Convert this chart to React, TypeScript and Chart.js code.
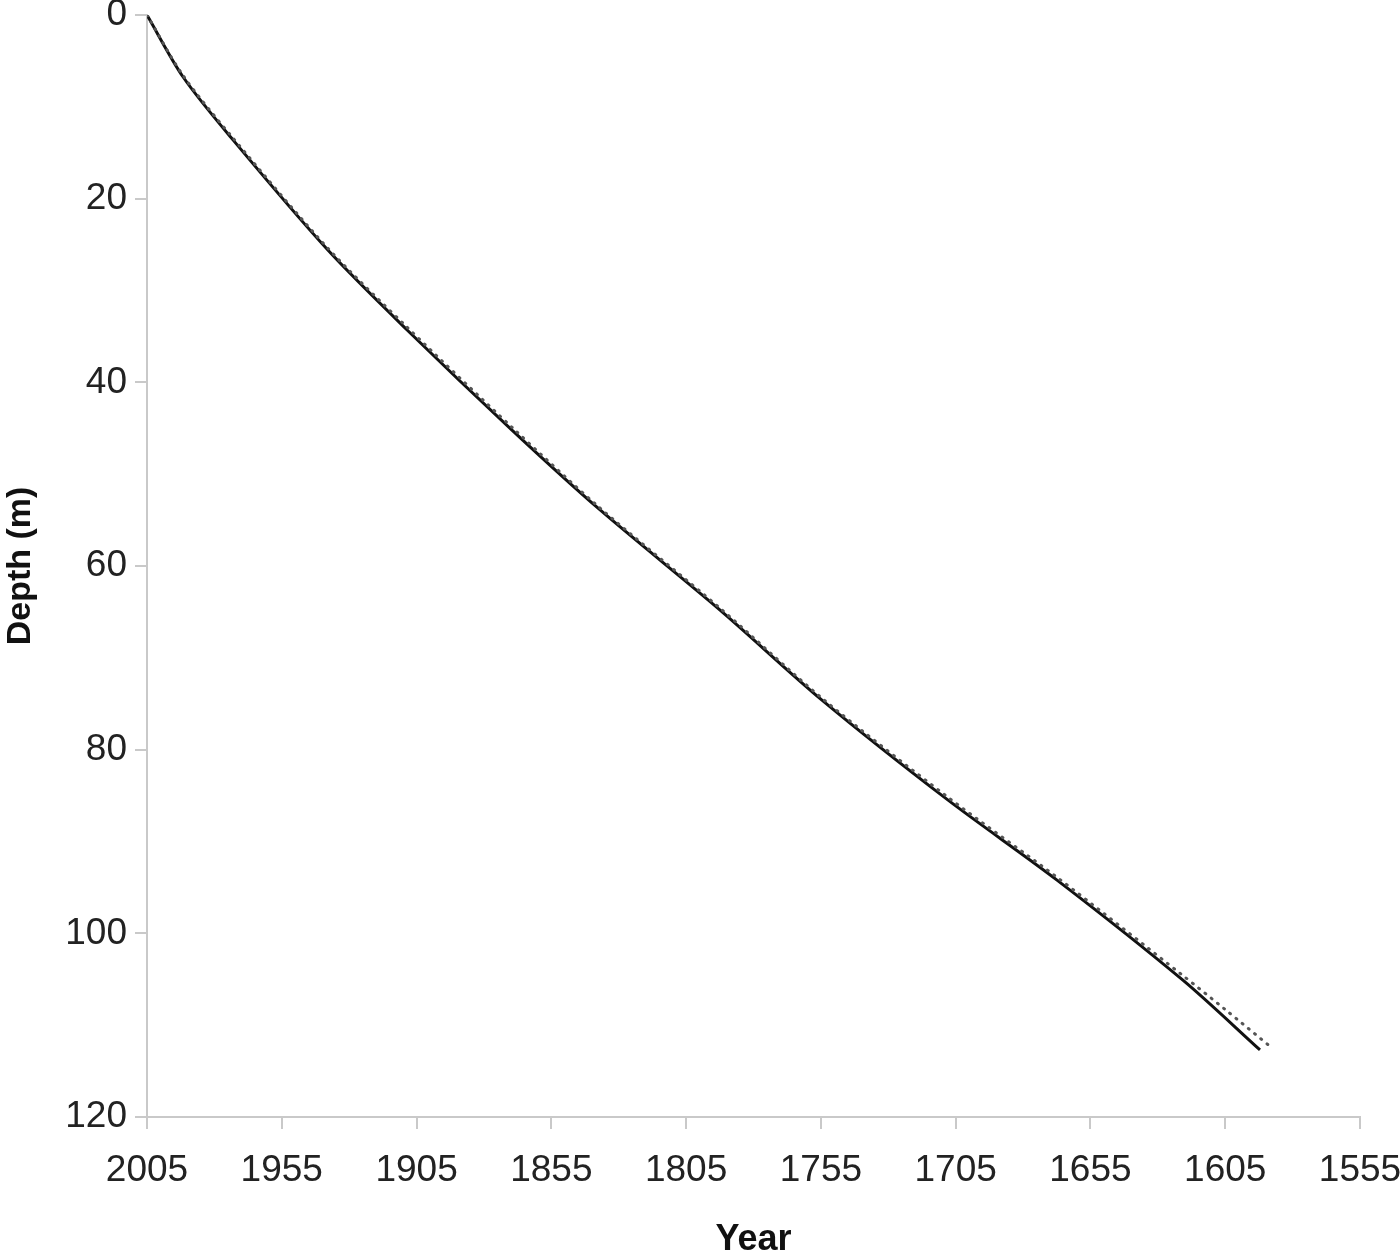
import React, { useEffect, useRef } from "react";
import { Chart, registerables } from "chart.js";

Chart.register(...registerables);

const yearTicks = [2005, 1955, 1905, 1855, 1805, 1755, 1705, 1655, 1605, 1555];
const depthTicks = [0, 20, 40, 60, 80, 100, 120];

const solidYears = [2005, 1991.6, 1973.1, 1937.9, 1908.5, 1869.6, 1836.9, 1792.4, 1754.6, 1707.8, 1667.4, 1620.7, 1592.1];
const solidDepths = [0, 6.75, 13.6, 25.6, 34.3, 45.2, 53.9, 64.8, 74.6, 85.5, 94.2, 105.1, 112.7];

const dottedYears = [2005, 1991.6, 1973.1, 1937.9, 1908.5, 1869.6, 1836.9, 1792.4, 1754.6, 1707.8, 1667.4, 1620.7, 1605, 1588.4];
const dottedDepths = [0, 6.6, 13.4, 25.4, 34.0, 44.9, 53.7, 64.6, 74.4, 85.2, 93.9, 104.6, 108.3, 112.3];

const toPoints = (xs: number[], ys: number[]) => xs.map((x, i) => ({ x, y: ys[i] }));

export default function App() {
  const ref = useRef<HTMLCanvasElement | null>(null);
  useEffect(() => {
    if (!ref.current) return;
    const gray = "#c9c9c9";
    const chart = new Chart(ref.current, {
      type: "scatter",
      data: {
        datasets: [
          {
            label: "dotted",
            data: toPoints(dottedYears, dottedDepths),
            showLine: true,
            borderColor: "#555555",
            borderWidth: 3,
            borderDash: [1, 7],
            borderCapStyle: "round",
            pointRadius: 0,
            tension: 0.3,
            fill: false,
          },
          {
            label: "solid",
            data: toPoints(solidYears, solidDepths),
            showLine: true,
            borderColor: "#111111",
            borderWidth: 3,
            pointRadius: 0,
            tension: 0.3,
            fill: false,
          },
        ],
      },
      options: {
        animation: false,
        responsive: false,
        layout: { padding: { top: 15, right: 40, left: 0, bottom: 0 } },
        plugins: { legend: { display: false }, tooltip: { enabled: false } },
        scales: {
          x: {
            type: "linear",
            reverse: true,
            min: 1555,
            max: 2005,
            afterBuildTicks: (s: any) => {
              s.ticks = yearTicks.map((v) => ({ value: v }));
            },
            afterFit: (s: any) => {
              s.height = 133;
              s.paddingLeft = 0;
              s.paddingRight = 0;
            },
            ticks: {
              color: "#222222",
              font: { family: "Liberation Sans, Arial, sans-serif", size: 37 },
              padding: 20,
              maxRotation: 0,
              autoSkip: false,
              callback: (v: any) => String(v),
            },
            grid: { drawOnChartArea: false, drawTicks: true, tickLength: 12, color: gray, lineWidth: 2 },
            border: { display: true, color: gray, width: 2 },
            title: {
              display: true,
              text: "Year",
              color: "#111111",
              font: { family: "Liberation Sans, Arial, sans-serif", size: 36, weight: "bold" },
              padding: { top: 24, bottom: -12 },
            },
          },
          y: {
            type: "linear",
            reverse: true,
            min: 0,
            max: 120,
            afterBuildTicks: (s: any) => {
              s.ticks = depthTicks.map((v) => ({ value: v }));
            },
            afterFit: (s: any) => {
              s.width = 147;
              s.paddingTop = 0;
              s.paddingBottom = 0;
            },
            ticks: {
              color: "#222222",
              font: { family: "Liberation Sans, Arial, sans-serif", size: 37 },
              padding: 8,
              autoSkip: false,
              callback: (v: any) => String(v),
            },
            grid: { drawOnChartArea: false, drawTicks: true, tickLength: 12, color: gray, lineWidth: 2 },
            border: { display: true, color: gray, width: 2 },
            title: {
              display: true,
              text: "Depth (m)",
              color: "#111111",
              font: { family: "Liberation Sans, Arial, sans-serif", size: 34, weight: "bold" },
              padding: { top: 0, bottom: 8 },
            },
          },
        },
      },
    } as any);
    return () => chart.destroy();
  }, []);
  return (
    <div style={{ position: "fixed", left: 0, top: 0, width: 1400, height: 1250, background: "#fff" }}>
      <canvas ref={ref} width={1400} height={1250} style={{ width: 1400, height: 1250 }} />
    </div>
  );
}
